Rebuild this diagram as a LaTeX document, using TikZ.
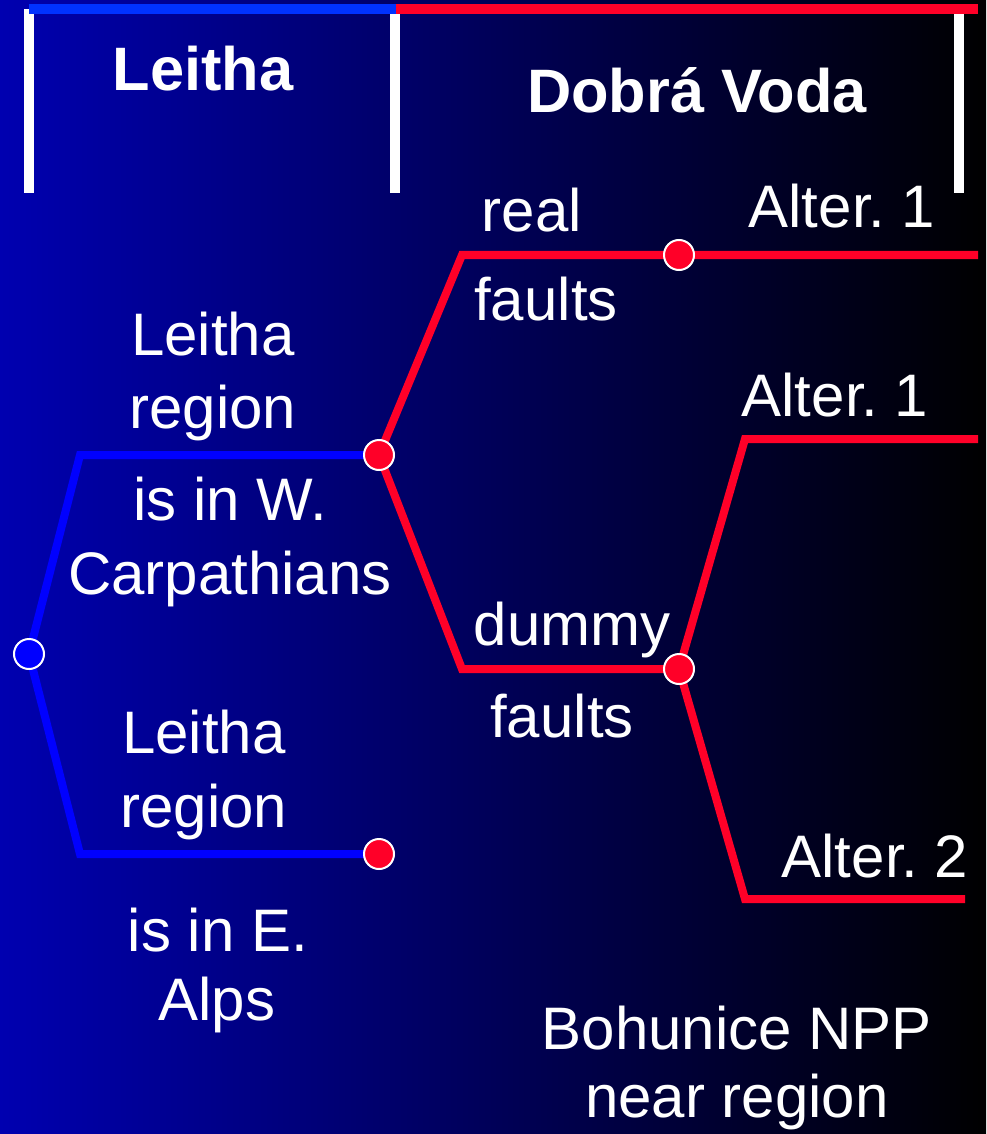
\documentclass[tikz,border=0pt]{standalone}
\usepackage{fontspec}
\setmainfont{Liberation Sans}
\frenchspacing
\definecolor{bgblue}{RGB}{0,0,176}
\definecolor{linered}{RGB}{255,0,40}
\definecolor{lineblue}{RGB}{0,0,255}
\definecolor{barblue}{RGB}{0,50,255}

\tikzset{
  lbl/.style={text=white, inner sep=0pt, anchor=base, font=\fontsize{45}{54}\selectfont},
  head/.style={lbl, font=\fontsize{46}{54}\selectfont\bfseries},
  redbranch/.style={draw=linered, line width=6pt},
  bluebranch/.style={draw=lineblue, line width=6pt},
  knot/.style={circle, fill=linered, draw=white, line width=1.5pt, minimum size=22.5pt, inner sep=0pt},
  rootknot/.style={knot, fill=lineblue},
}

\begin{document}
\begin{tikzpicture}[x=0.75pt,y=-0.75pt]
  \shade[left color=bgblue, right color=black] (0,0) rectangle (986,1134);

  % column frames
  \foreach \x/\t in {29/9, 395/14, 959/14}
    \draw[white, line width=7.5pt] (\x,\t) -- (\x,193);
  \draw[barblue, line width=7.5pt] (29,9) -- (396,9);
  \draw[linered, line width=7.5pt] (396,9) -- (978,9);

  % column headings
  \node[head] (leitha) at (203,91) {Leitha};
  \node[head] (dobra) at (697,113) {Dobrá Voda};

  % branch points
  \coordinate (root) at (29,654);
  \coordinate (wc) at (379,455);
  \coordinate (ea) at (379,854);
  \coordinate (rf) at (679,255);
  \coordinate (df) at (679,669);

  % bends and open ends
  \coordinate (bw) at (80,455);
  \coordinate (be) at (80,854);
  \coordinate (br) at (462,255);
  \coordinate (bd) at (462,669);
  \coordinate (ba) at (745,439);
  \coordinate (bb) at (745,899);
  \coordinate (er) at (978,255);
  \coordinate (ea1) at (978,439);
  \coordinate (ea2) at (965,899);

  % Leitha level
  \draw[bluebranch] (root) -- (bw) -- (wc);
  \draw[bluebranch] (root) -- (be) -- (ea);

  % Dobra Voda level
  \draw[redbranch] (wc) -- (br) -- (rf) -- (er);
  \draw[redbranch] (wc) -- (bd) -- (df);
  \draw[redbranch] (df) -- (ba) -- (ea1);
  \draw[redbranch] (df) -- (bb) -- (ea2);

  % knots
  \node[rootknot] (rootdot) at (root) {};
  \foreach \k in {wc, ea, rf, df}
    \node[knot] (\k dot) at (\k) {};

  % labels
  \node[lbl] (leitha1) at (213,355) {Leitha};
  \node[lbl] (region1) at (213,428) {region};
  \node[lbl] (isinw) at (230,520) {is in W.};
  \node[lbl] (carp) at (230,594) {Carpathians};
  \node[lbl] (leitha2) at (204,753) {Leitha};
  \node[lbl] (region2) at (204,827) {region};
  \node[lbl] (isine) at (218,951) {is in E.};
  \node[lbl] (alps) at (217,1020) {Alps};

  \node[lbl] (real) at (532,232) {real};
  \node[lbl] (faults1) at (546,320) {faults};
  \node[lbl] (dummy) at (572,645) {dummy};
  \node[lbl] (faults2) at (562,737) {faults};

  \node[lbl] (alt1a) at (842,228) {Alter. 1};
  \node[lbl] (alt1b) at (835,416) {Alter. 1};
  \node[lbl] (alt2) at (875,877) {Alter. 2};

  \node[lbl] (npp) at (737,1049) {Bohunice NPP};
  \node[lbl] (near) at (737,1117) {near region};
\end{tikzpicture}
\end{document}
